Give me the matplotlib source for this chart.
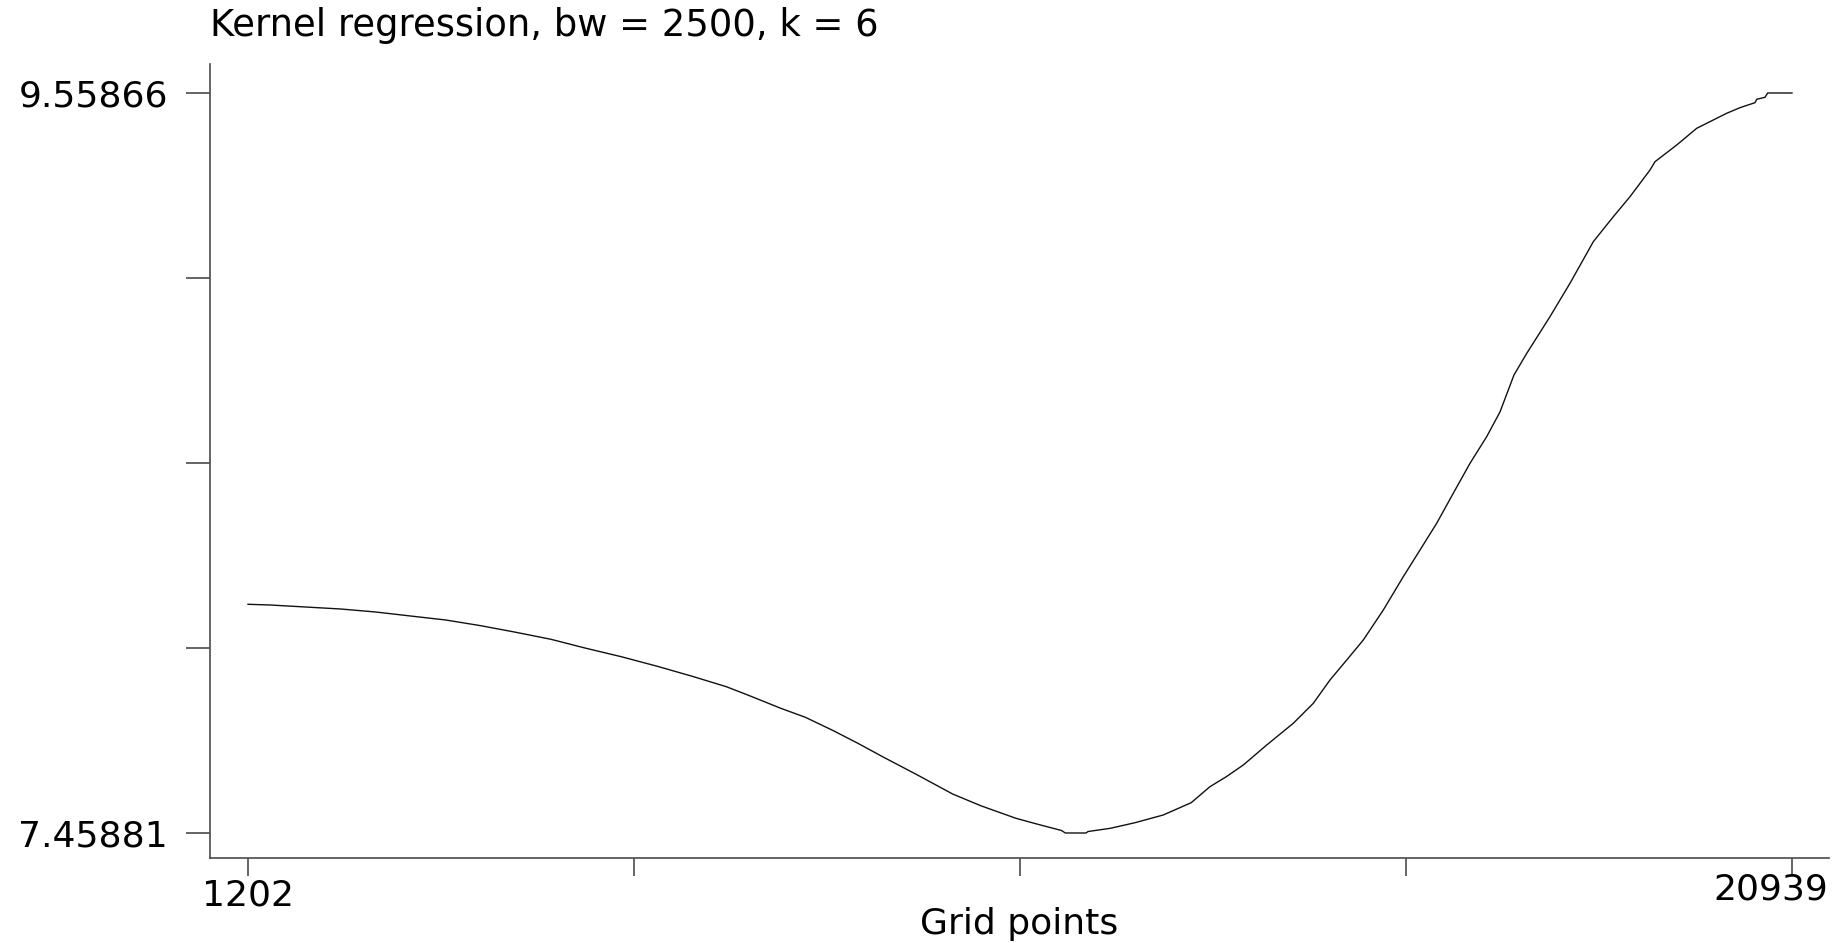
import matplotlib
matplotlib.use("Agg")
import matplotlib.pyplot as plt
import numpy as np

# ---- data ----
grid_x = [1202, 1486, 2383, 2831, 3279, 3728, 4177, 4625, 5074, 5523,
          5971, 6419, 6867, 7316, 7622, 8012, 8326, 8684, 8998, 9313,
          9760, 10209, 10568, 11017, 11331, 11600, 11650, 11914, 11940,
          12227, 12542, 12901, 13259, 13499, 13708, 13925, 14224, 14564,
          14820, 15033, 15247, 15459, 15715, 15970, 16184, 16397, 16609,
          16823, 17036, 17206, 17385, 17551, 17845, 18101, 18399, 18655,
          18868, 19124, 19188, 19465, 19721, 19933, 20104, 20274, 20466,
          20488, 20594, 20628, 20939]
fit_y = [8.1078, 8.1058, 8.0945, 8.0860, 8.0746, 8.0633, 8.0471, 8.0284,
         8.0085, 7.9830, 7.9592, 7.9328, 7.9044, 7.8740, 7.8476, 7.8127,
         7.7872, 7.7492, 7.7134, 7.6754, 7.6234, 7.5695, 7.5363, 7.5006,
         7.4816, 7.4660, 7.45881, 7.45881, 7.4630, 7.4722, 7.4881, 7.5099,
         7.5448, 7.5903, 7.6186, 7.6518, 7.7085, 7.7701, 7.8269, 7.8930,
         7.9497, 8.0065, 8.0917, 8.1862, 8.2619, 8.3377, 8.4228, 8.5079,
         8.5834, 8.6535, 8.7585, 8.8209, 8.9239, 9.0187, 9.1367, 9.2077,
         9.2644, 9.3402, 9.3638, 9.4111, 9.4585, 9.4821, 9.5011, 9.5170,
         9.5312, 9.5408, 9.5465, 9.5587, 9.55866]

x_min_label, x_max_label = 1202, 20939
y_min_label, y_max_label = 7.45881, 9.55866
title = "Kernel regression, bw = 2500, k = 6"
xlabel = "Grid points"

W, H = 1832, 943
fig = plt.figure(figsize=(W / 100, H / 100), dpi=100)
fig.patch.set_facecolor("white")
ax = fig.add_axes([210 / W, (H - 858) / H, (1829 - 210) / W, (858 - 64) / H])

ax.plot(grid_x, fit_y, color="#111111", lw=1.0, solid_joinstyle="miter")

x_ticks = np.linspace(x_min_label, x_max_label, 5)
y_ticks = np.linspace(y_min_label, y_max_label, 5)

xs = (x_max_label - x_min_label) / 1544.0  # data units per pixel
ys = (y_max_label - y_min_label) / 740.0
ax.set_xlim(x_min_label - 38 * xs, x_max_label + 37 * xs)
ax.set_ylim(y_min_label - 25 * ys, y_max_label + 29 * ys)

axis_col = "#4a4a4a"
for s in ["top", "right"]:
    ax.spines[s].set_visible(False)
for s in ["left", "bottom"]:
    ax.spines[s].set_color(axis_col)
    ax.spines[s].set_linewidth(1.2)

fs = 26
ax.set_yticks(y_ticks)
ax.set_yticklabels(["7.45881", "", "", "", "9.55866"])
ax.set_xticks(x_ticks)
ax.set_xticklabels(["1202", "", "", "", ""])
ax.tick_params(axis="y", length=17.3, width=1.2, color=axis_col, pad=13, labelsize=fs)
ax.tick_params(axis="x", length=13, width=1.2, color=axis_col, pad=2, labelsize=fs)

# last x label shifted left to stay inside the figure (as in reference)
ax.annotate("20939", xy=(x_ticks[-1], 0), xycoords=("data", "axes fraction"),
            xytext=(36, -15), textcoords="offset pixels", ha="right", va="top",
            fontsize=fs)

ax.set_xlabel(xlabel, fontsize=fs, labelpad=-4)
ax.set_title(title, loc="left", fontsize=26.6, pad=20)

fig.savefig("out.png", dpi=100, facecolor="white")
